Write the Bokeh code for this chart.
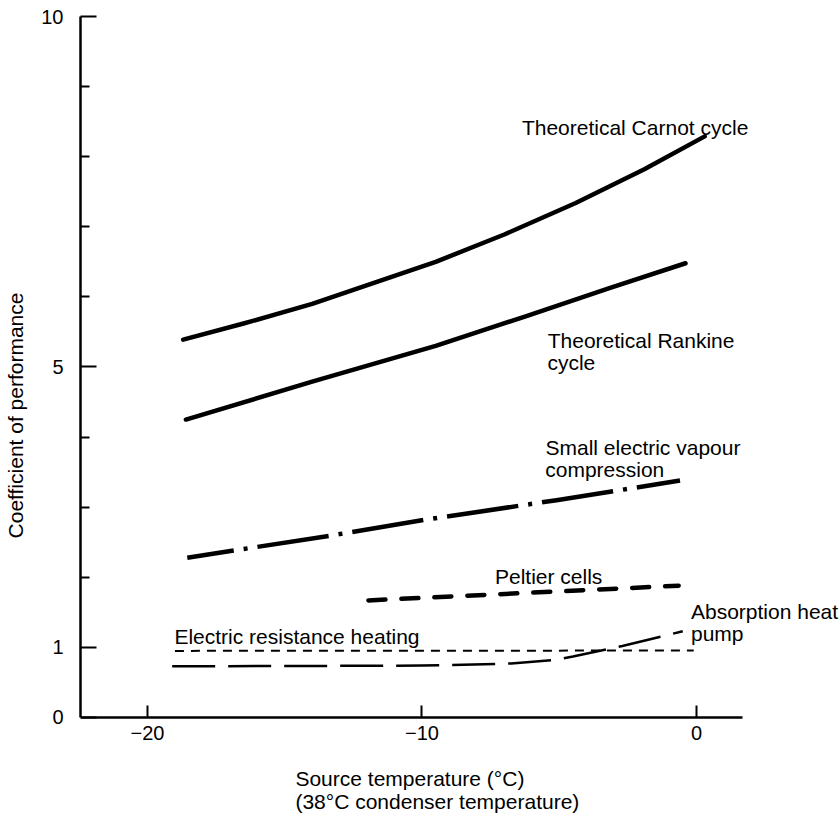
from bokeh.plotting import figure
from bokeh.models import FixedTicker, Label
from bokeh.embed import file_html
from bokeh.resources import INLINE

FONT = "Liberation Sans"

# Source temperature (deg C) and coefficient of performance
carnot_t = [-18.7, -16.5, -14.0, -9.5, -7.0, -4.4, -1.9, 0.3]
carnot_cop = [5.39, 5.62, 5.90, 6.50, 6.89, 7.34, 7.82, 8.29]

rankine_t = [-18.6, -14.0, -9.5, -6.25, -3.2, -0.4]
rankine_cop = [4.25, 4.79, 5.30, 5.72, 6.12, 6.48]

vapour_t = [-18.55, -13.4, -9.9, -5.1, -0.6]
vapour_cop = [2.28, 2.59, 2.82, 3.10, 3.38]

peltier_t = [-11.95, -0.65]
peltier_cop = [1.67, 1.88]

resist_t = [-19.0, -0.1]
resist_cop = [0.95, 0.955]

absorb_t = [-19.1, -10.0, -6.75, -5.2, -4.5, -2.7, -0.5]
absorb_cop = [0.73, 0.74, 0.77, 0.82, 0.87, 1.02, 1.23]

x_ticks = [-20, -10, 0]
x_tick_labels = ["\u221220", "\u221210", "0"]
y_major = [0, 1, 5, 10]
y_minor = [2, 3, 4, 6, 7, 8, 9]

X_MIN, X_AXIS_END = -22.44, 1.68

p = figure(width=839, height=814, x_range=(X_MIN, 5.21), y_range=(-1.384, 10),
           output_backend="svg", toolbar_location=None,
           min_border_left=80, min_border_right=0,
           min_border_top=16, min_border_bottom=0)
p.background_fill_color = "white"
p.border_fill_color = "white"
p.outline_line_color = None
p.grid.visible = False

# axes
xa = p.xaxis[0]
xa.fixed_location = 0
xa.bounds = (X_MIN, X_AXIS_END)
xa.ticker = FixedTicker(ticks=x_ticks)
xa.major_label_overrides = {t: l for t, l in zip(x_ticks, x_tick_labels)}
xa.axis_line_width = 2.5
xa.axis_line_color = "black"
xa.major_tick_in = 12
xa.major_tick_out = 0
xa.major_tick_line_width = 2
xa.major_tick_line_color = "black"
xa.minor_tick_line_color = None
xa.major_label_standoff = 9
xa.major_label_text_font = FONT
xa.major_label_text_font_size = "20px"
xa.major_label_text_color = "black"

ya = p.yaxis[0]
ya.bounds = (0, 10)
ya.ticker = FixedTicker(ticks=y_major, minor_ticks=y_minor)
ya.axis_line_width = 2.5
ya.axis_line_color = "black"
ya.major_tick_in = 16
ya.major_tick_out = 0
ya.major_tick_line_width = 2
ya.major_tick_line_color = "black"
ya.minor_tick_in = 9
ya.minor_tick_out = 0
ya.minor_tick_line_width = 2
ya.minor_tick_line_color = "black"
ya.major_label_standoff = 17
ya.major_label_text_font = FONT
ya.major_label_text_font_size = "20px"
ya.major_label_text_color = "black"
ya.axis_label = "Coefficient of performance"
ya.axis_label_text_font = FONT
ya.axis_label_text_font_size = "21px"
ya.axis_label_text_font_style = "normal"
ya.axis_label_text_color = "black"
ya.axis_label_standoff = 11

# curves
p.line(carnot_t, carnot_cop, line_width=4.5, line_color="black",
       line_cap="round", line_join="round")
p.line(rankine_t, rankine_cop, line_width=4.5, line_color="black",
       line_cap="round", line_join="round")
p.line(vapour_t, vapour_cop, line_width=4.5, line_color="black", line_join="round",
       line_dash="72 10 4 10", line_dash_offset=25)
p.line(peltier_t, peltier_cop, line_width=4.5, line_color="black",
       line_dash="17 16", line_cap="round")
p.line(resist_t, resist_cop, line_width=2, line_color="black", line_dash="9 7")
p.line(absorb_t, absorb_cop, line_width=2.5, line_color="black",
       line_dash="43 13", line_join="round")


def lab(x, y, t, baseline="alphabetic"):
    p.add_layout(Label(x=x, y=y, text=t, text_font=FONT, text_font_size="21px",
                       text_color="black", text_baseline=baseline, text_align="left"))


lab(-6.36, 8.41, "Theoretical Carnot cycle")
lab(-5.42, 5.38, "Theoretical Rankine")
lab(-5.43, 5.07, "cycle")
lab(-5.50, 3.85, "Small electric vapour")
lab(-5.51, 3.54, "compression")
lab(-7.34, 2.01, "Peltier cells")
lab(-0.20, 1.505, "Absorption heat")
lab(-0.20, 1.205, "pump")
lab(-19.02, 1.156, "Electric resistance heating")
lab(-14.61, -0.870, "Source temperature (\u00b0C)", "middle")
lab(-14.61, -1.198, "(38\u00b0C condenser temperature)", "middle")

open("out.html", "w").write(file_html(p, INLINE))
